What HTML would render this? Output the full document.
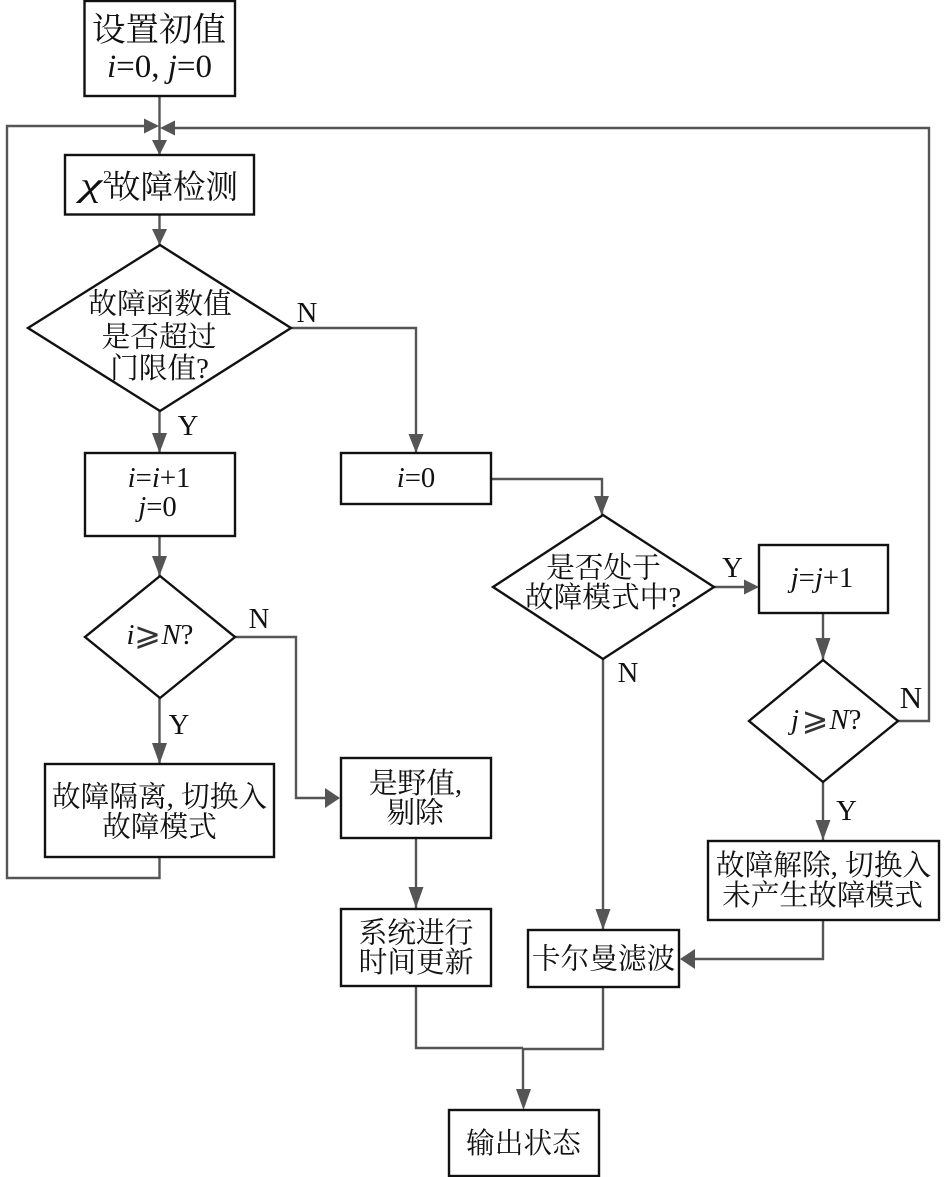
<!DOCTYPE html>
<html><head><meta charset="utf-8">
<style>
html,body{margin:0;padding:0;background:#fff;}
svg{display:block;}
text{font-family:"Liberation Serif","Noto Serif CJK SC",serif;fill:#111;text-anchor:middle;font-size:28.7px;}
.s{text-anchor:start;}
.i{font-style:italic;}
.u{font-style:normal;}
.g{font-size:32px;fill:#333;}
.b{fill:#fff;stroke:#111;stroke-width:2.4;}
.l{fill:none;stroke:#555;stroke-width:2.4;}
.a{fill:#555;stroke:none;}
</style></head><body>
<svg width="945" height="1177" viewBox="0 0 945 1177" xmlns="http://www.w3.org/2000/svg">
<!-- connectors -->
<path class="l" d="M159.5 96V155"/>
<path class="l" d="M159.5 857V878H7V126H150"/>
<path class="l" d="M898 721H929V128H170"/>
<path class="l" d="M159.5 214V245"/>
<path class="l" d="M159.5 411V453"/>
<path class="l" d="M291 328H416V453"/>
<path class="l" d="M159.5 537V576"/>
<path class="l" d="M159.5 698V763"/>
<path class="l" d="M235 637H296V798H330"/>
<path class="l" d="M416 838V908"/>
<path class="l" d="M491 479H602V515"/>
<path class="l" d="M714 587H750"/>
<path class="l" d="M823 613V660"/>
<path class="l" d="M823 782V840"/>
<path class="l" d="M823 920V959H690"/>
<path class="l" d="M603 659V929"/>
<path class="l" d="M416 986V1048H523M603 987V1049H523V1100"/>
<!-- arrowheads -->
<path class="a" d="M159 126L144 118.5V133.5Z"/>
<path class="a" d="M160 128L175 120.5V135.5Z"/>
<path class="a" d="M159.5 155L152 140H167Z"/>
<path class="a" d="M159.5 245L152 229H167Z"/>
<path class="a" d="M159.5 453L152 433H167Z"/>
<path class="a" d="M416 453L408.5 434H423.5Z"/>
<path class="a" d="M159.5 576L152 556H167Z"/>
<path class="a" d="M159.5 764L152 743H167Z"/>
<path class="a" d="M340 798L325 788V808Z"/>
<path class="a" d="M416 908L408.5 887H423.5Z"/>
<path class="a" d="M601.5 515L594 496H609Z"/>
<path class="a" d="M759 587L744 579.5V594.5Z"/>
<path class="a" d="M823 660L815.5 638H830.5Z"/>
<path class="a" d="M823 840L815.5 820H830.5Z"/>
<path class="a" d="M680 959L695 949V969Z"/>
<path class="a" d="M603 930L595.5 909H610.5Z"/>
<path class="a" d="M523.5 1110L516 1089H531Z"/>
<!-- nodes -->
<rect class="b" x="84.5" y="1" width="150.5" height="95"/>
<rect class="b" x="65" y="155" width="189" height="59.5"/>
<polygon class="b" points="160,245 291,328 160,411 28,328"/>
<rect class="b" x="85" y="453" width="150" height="83"/>
<rect class="b" x="341" y="453" width="150" height="51"/>
<polygon class="b" points="160,576 235,637 160,698 85,637"/>
<polygon class="b" points="603,515 714,587 603,659 493,587"/>
<rect class="b" x="759" y="545" width="129" height="68"/>
<polygon class="b" points="823,660 898,721 823,782 749,721"/>
<rect class="b" x="45" y="764" width="229" height="93"/>
<rect class="b" x="341" y="758" width="150" height="80"/>
<rect class="b" x="708" y="841" width="231" height="79"/>
<rect class="b" x="341" y="909" width="150" height="77"/>
<rect class="b" x="528" y="930" width="151" height="57"/>
<rect class="b" x="449" y="1110" width="150" height="66"/>
<!-- labels -->
<text x="159" y="41" style="font-size:33.5px">设置初值</text>
<text x="159.5" y="77" style="font-size:33px"><tspan class="i">i</tspan>=0, <tspan class="i">j</tspan>=0</text>
<text class="s i" x="80" y="196" style="font-size:34px" textLength="22" lengthAdjust="spacingAndGlyphs">χ</text>
<text class="s" x="103" y="183" style="font-size:18px">2</text>
<text class="s" x="108" y="198" style="font-size:32.5px">故障检测</text>
<text x="160" y="313.5">故障函数值</text>
<text x="159" y="346.5">是否超过</text>
<text x="159.5" y="378">门限值?</text>
<text x="159" y="487"><tspan class="i">i</tspan>=<tspan class="i">i</tspan>+1</text>
<text x="157.5" y="516"><tspan class="i">j</tspan>=0</text>
<text x="416" y="487"><tspan class="i">i</tspan>=0</text>
<text class="i" x="130.5" y="644">i</text>
<text class="g" x="147.5" y="645">⩾</text>
<text class="s" x="161.5" y="644"><tspan class="i">N</tspan><tspan class="u">?</tspan></text>
<text x="603.5" y="577.5">是否处于</text>
<text x="603" y="607">故障模式中?</text>
<text x="822" y="587"><tspan class="i">j</tspan>=<tspan class="i">j</tspan>+1</text>
<text class="i" x="795" y="729">j</text>
<text class="g" x="815" y="730">⩾</text>
<text class="s" x="829.5" y="729"><tspan class="i">N</tspan><tspan class="u">?</tspan></text>
<text x="159.5" y="806.5">故障隔离, 切换入</text>
<text x="159.5" y="836.5">故障模式</text>
<text x="415.5" y="793">是野值,</text>
<text x="415" y="822.5">剔除</text>
<text x="823.5" y="875">故障解除, 切换入</text>
<text x="822.5" y="905">未产生故障模式</text>
<text x="416" y="942.5">系统进行</text>
<text x="416" y="972">时间更新</text>
<text x="603.5" y="968.5">卡尔曼滤波</text>
<text x="523.5" y="1153">输出状态</text>
<text x="307" y="322">N</text>
<text x="188" y="435">Y</text>
<text x="259" y="628">N</text>
<text x="179" y="734">Y</text>
<text x="732.5" y="577">Y</text>
<text x="628" y="682">N</text>
<text x="911" y="708" style="font-size:31px">N</text>
<text x="846.5" y="820">Y</text>
</svg>
</body></html>
